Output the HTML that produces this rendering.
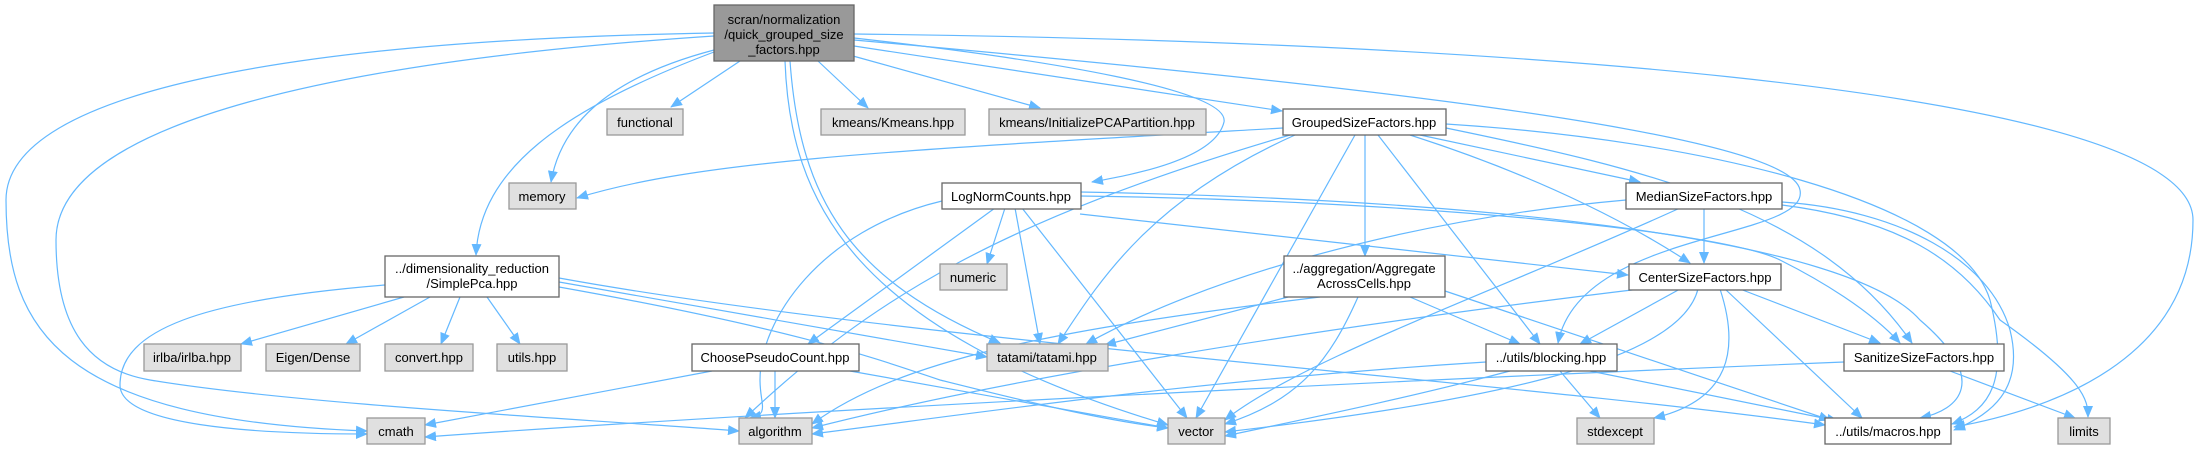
<!DOCTYPE html>
<html><head><meta charset="utf-8"><style>
html,body{margin:0;padding:0;background:#fff;}
svg{display:block;}
text{font-family:"Liberation Sans",Arial,sans-serif;font-size:13px;fill:#000;}
.e{fill:none;stroke:#63b8ff;stroke-width:1.2;}
.g{fill:#e0e0e0;stroke:#999;stroke-width:1.3;}
.w{fill:#fff;stroke:#666;stroke-width:1.3;}
</style></head><body>
<svg width="2199" height="450" viewBox="0 0 2199 450" xmlns="http://www.w3.org/2000/svg">
<defs>
<marker id="a" markerUnits="userSpaceOnUse" markerWidth="12" markerHeight="10" refX="11" refY="5" orient="auto">
<path d="M0,0 L12,5 L0,10 z" fill="#63b8ff"/>
</marker>
</defs>
<g class="e" marker-end="url(#a)">
<!-- main -->
<path d="M714,33 C300,40 6,90 6,200 C6,330 60,420 367,431"/>
<path d="M714,36 C350,60 56,120 56,240 C56,330 90,370 150,380 C300,405 600,420 739,431"/>
<path d="M740,61 L671,107"/>
<path d="M714,50 C600,80 560,130 551,182"/>
<path d="M714,52 C560,110 480,170 476,255"/>
<path d="M785,61 C790,200 850,330 1168,425"/>
<path d="M790,61 C800,200 850,280 1000,343"/>
<path d="M818,61 L868,108"/>
<path d="M853,56 L1040,108"/>
<path d="M854,46 L1282,111"/>
<path d="M854,38 C1050,60 1230,90 1224,122 C1215,160 1130,175 1092,182"/>
<path d="M854,40 C1300,80 1790,130 1800,190 C1810,240 1580,230 1558,343"/>
<path d="M854,34 C1400,40 2193,80 2193,220 C2193,360 2050,410 1954,427"/>
<!-- SimplePca -->
<path d="M404,297 L241,344"/>
<path d="M430,297 L346,344"/>
<path d="M460,297 L441,344"/>
<path d="M487,297 L520,344"/>
<path d="M385,285 C200,300 120,330 120,385 C120,425 250,434 367,434"/>
<path d="M559,282 L987,357"/>
<path d="M559,287 C800,330 880,360 940,380 C1020,400 1100,420 1168,428"/>
<path d="M559,278 C900,340 1500,380 1825,425"/>
<!-- ChoosePseudoCount -->
<path d="M712,371 L425,425"/>
<path d="M775,371 L775,418"/>
<path d="M850,371 L1168,428"/>
<!-- LogNorm -->
<path d="M942,201 C820,230 760,320 760,380 C760,405 770,414 750,418"/>
<path d="M995,208 L808,344"/>
<path d="M1005,208 L987,264"/>
<path d="M1015,208 L1040,344"/>
<path d="M1022,208 L1187,418"/>
<path d="M1080,214 L1628,275"/>
<path d="M1080,196 C1400,200 1720,230 1780,260 C1820,280 1870,310 1900,343"/>
<path d="M1080,192 C1500,200 1850,240 1920,320 C1990,380 1960,410 1920,418"/>
<!-- Grouped -->
<path d="M1283,128 C900,150 700,160 577,198"/>
<path d="M1290,135 C1000,220 870,300 745,418"/>
<path d="M1295,135 C1150,200 1100,280 1058,344"/>
<path d="M1355,135 L1196,418"/>
<path d="M1365,135 L1365,256"/>
<path d="M1378,135 L1540,344"/>
<path d="M1420,135 L1640,182"/>
<path d="M1410,135 C1550,180 1640,230 1690,263"/>
<path d="M1446,128 C1650,170 1820,210 1912,343"/>
<path d="M1446,124 C1700,140 1960,200 1990,300 C2010,380 1990,410 1952,424"/>
<!-- Aggregate -->
<path d="M1288,297 L1105,345"/>
<path d="M1320,297 C1050,330 900,360 812,424"/>
<path d="M1358,297 C1330,360 1300,400 1225,424"/>
<path d="M1410,297 L1520,344"/>
<path d="M1445,291 L1830,420"/>
<!-- Median -->
<path d="M1626,200 C1400,220 1200,280 1086,344"/>
<path d="M1680,208 C1500,290 1300,360 1225,420"/>
<path d="M1704,208 L1704,263"/>
<path d="M1782,202 C1900,210 1990,260 2010,330 C2025,390 1990,415 1954,430"/>
<path d="M1782,205 C1900,220 1960,260 2000,320 C2085,380 2088,400 2088,417"/>
<!-- Center -->
<path d="M1640,289 C1300,330 1000,380 812,428"/>
<path d="M1680,289 L1580,344"/>
<path d="M1698,289 C1680,360 1500,400 1225,432"/>
<path d="M1720,289 C1740,350 1730,400 1654,418"/>
<path d="M1725,289 L1862,418"/>
<path d="M1740,289 L1880,343"/>
<!-- blocking -->
<path d="M1486,362 C1200,380 1000,410 812,434"/>
<path d="M1510,371 C1400,400 1300,420 1225,436"/>
<path d="M1560,371 L1600,418"/>
<path d="M1590,371 L1838,421"/>
<!-- Sanitize -->
<path d="M1844,362 C1400,380 800,410 425,437"/>
<path d="M1950,371 L2075,418"/>
</g>
<!-- nodes -->
<rect x="714" y="5" width="140" height="56" fill="#999" stroke="#666" stroke-width="1.3"/>
<text x="784" y="24" text-anchor="middle">scran/normalization</text>
<text x="784" y="39" text-anchor="middle">/quick_grouped_size</text>
<text x="784" y="54" text-anchor="middle">_factors.hpp</text>

<rect class="g" x="607" y="109" width="76" height="26"/><text x="645" y="127" text-anchor="middle">functional</text>
<rect class="g" x="821" y="109" width="144" height="26"/><text x="893" y="127" text-anchor="middle">kmeans/Kmeans.hpp</text>
<rect class="g" x="989" y="109" width="217" height="26"/><text x="1097" y="127" text-anchor="middle">kmeans/InitializePCAPartition.hpp</text>
<rect class="w" x="1283" y="109" width="163" height="26"/><text x="1364" y="127" text-anchor="middle">GroupedSizeFactors.hpp</text>

<rect class="g" x="509" y="183" width="67" height="26"/><text x="542" y="201" text-anchor="middle">memory</text>
<rect class="w" x="942" y="183" width="139" height="26"/><text x="1011" y="201" text-anchor="middle">LogNormCounts.hpp</text>
<rect class="w" x="1626" y="183" width="156" height="26"/><text x="1704" y="201" text-anchor="middle">MedianSizeFactors.hpp</text>

<rect class="w" x="385" y="256" width="174" height="41"/>
<text x="472" y="273" text-anchor="middle">../dimensionality_reduction</text>
<text x="472" y="288" text-anchor="middle">/SimplePca.hpp</text>
<rect class="g" x="940" y="264" width="67" height="26"/><text x="973" y="282" text-anchor="middle">numeric</text>
<rect class="w" x="1284" y="256" width="161" height="41"/>
<text x="1364" y="273" text-anchor="middle">../aggregation/Aggregate</text>
<text x="1364" y="288" text-anchor="middle">AcrossCells.hpp</text>
<rect class="w" x="1629" y="264" width="152" height="26"/><text x="1705" y="282" text-anchor="middle">CenterSizeFactors.hpp</text>

<rect class="g" x="144" y="344" width="97" height="27"/><text x="192" y="362" text-anchor="middle">irlba/irlba.hpp</text>
<rect class="g" x="266" y="344" width="94" height="27"/><text x="313" y="362" text-anchor="middle">Eigen/Dense</text>
<rect class="g" x="385" y="344" width="88" height="27"/><text x="429" y="362" text-anchor="middle">convert.hpp</text>
<rect class="g" x="497" y="344" width="70" height="27"/><text x="532" y="362" text-anchor="middle">utils.hpp</text>
<rect class="w" x="692" y="344" width="167" height="27"/><text x="775" y="362" text-anchor="middle">ChoosePseudoCount.hpp</text>
<rect class="g" x="987" y="344" width="121" height="27"/><text x="1047" y="362" text-anchor="middle">tatami/tatami.hpp</text>
<rect class="w" x="1486" y="344" width="131" height="27"/><text x="1551" y="362" text-anchor="middle">../utils/blocking.hpp</text>
<rect class="w" x="1844" y="344" width="160" height="27"/><text x="1924" y="362" text-anchor="middle">SanitizeSizeFactors.hpp</text>

<rect class="g" x="367" y="418" width="58" height="26"/><text x="396" y="436" text-anchor="middle">cmath</text>
<rect class="g" x="739" y="418" width="73" height="26"/><text x="775" y="436" text-anchor="middle">algorithm</text>
<rect class="g" x="1168" y="418" width="57" height="26"/><text x="1196" y="436" text-anchor="middle">vector</text>
<rect class="g" x="1577" y="418" width="77" height="26"/><text x="1615" y="436" text-anchor="middle">stdexcept</text>
<rect class="w" x="1825" y="418" width="126" height="26"/><text x="1888" y="436" text-anchor="middle">../utils/macros.hpp</text>
<rect class="g" x="2058" y="418" width="52" height="26"/><text x="2084" y="436" text-anchor="middle">limits</text>
</svg>
</body></html>
